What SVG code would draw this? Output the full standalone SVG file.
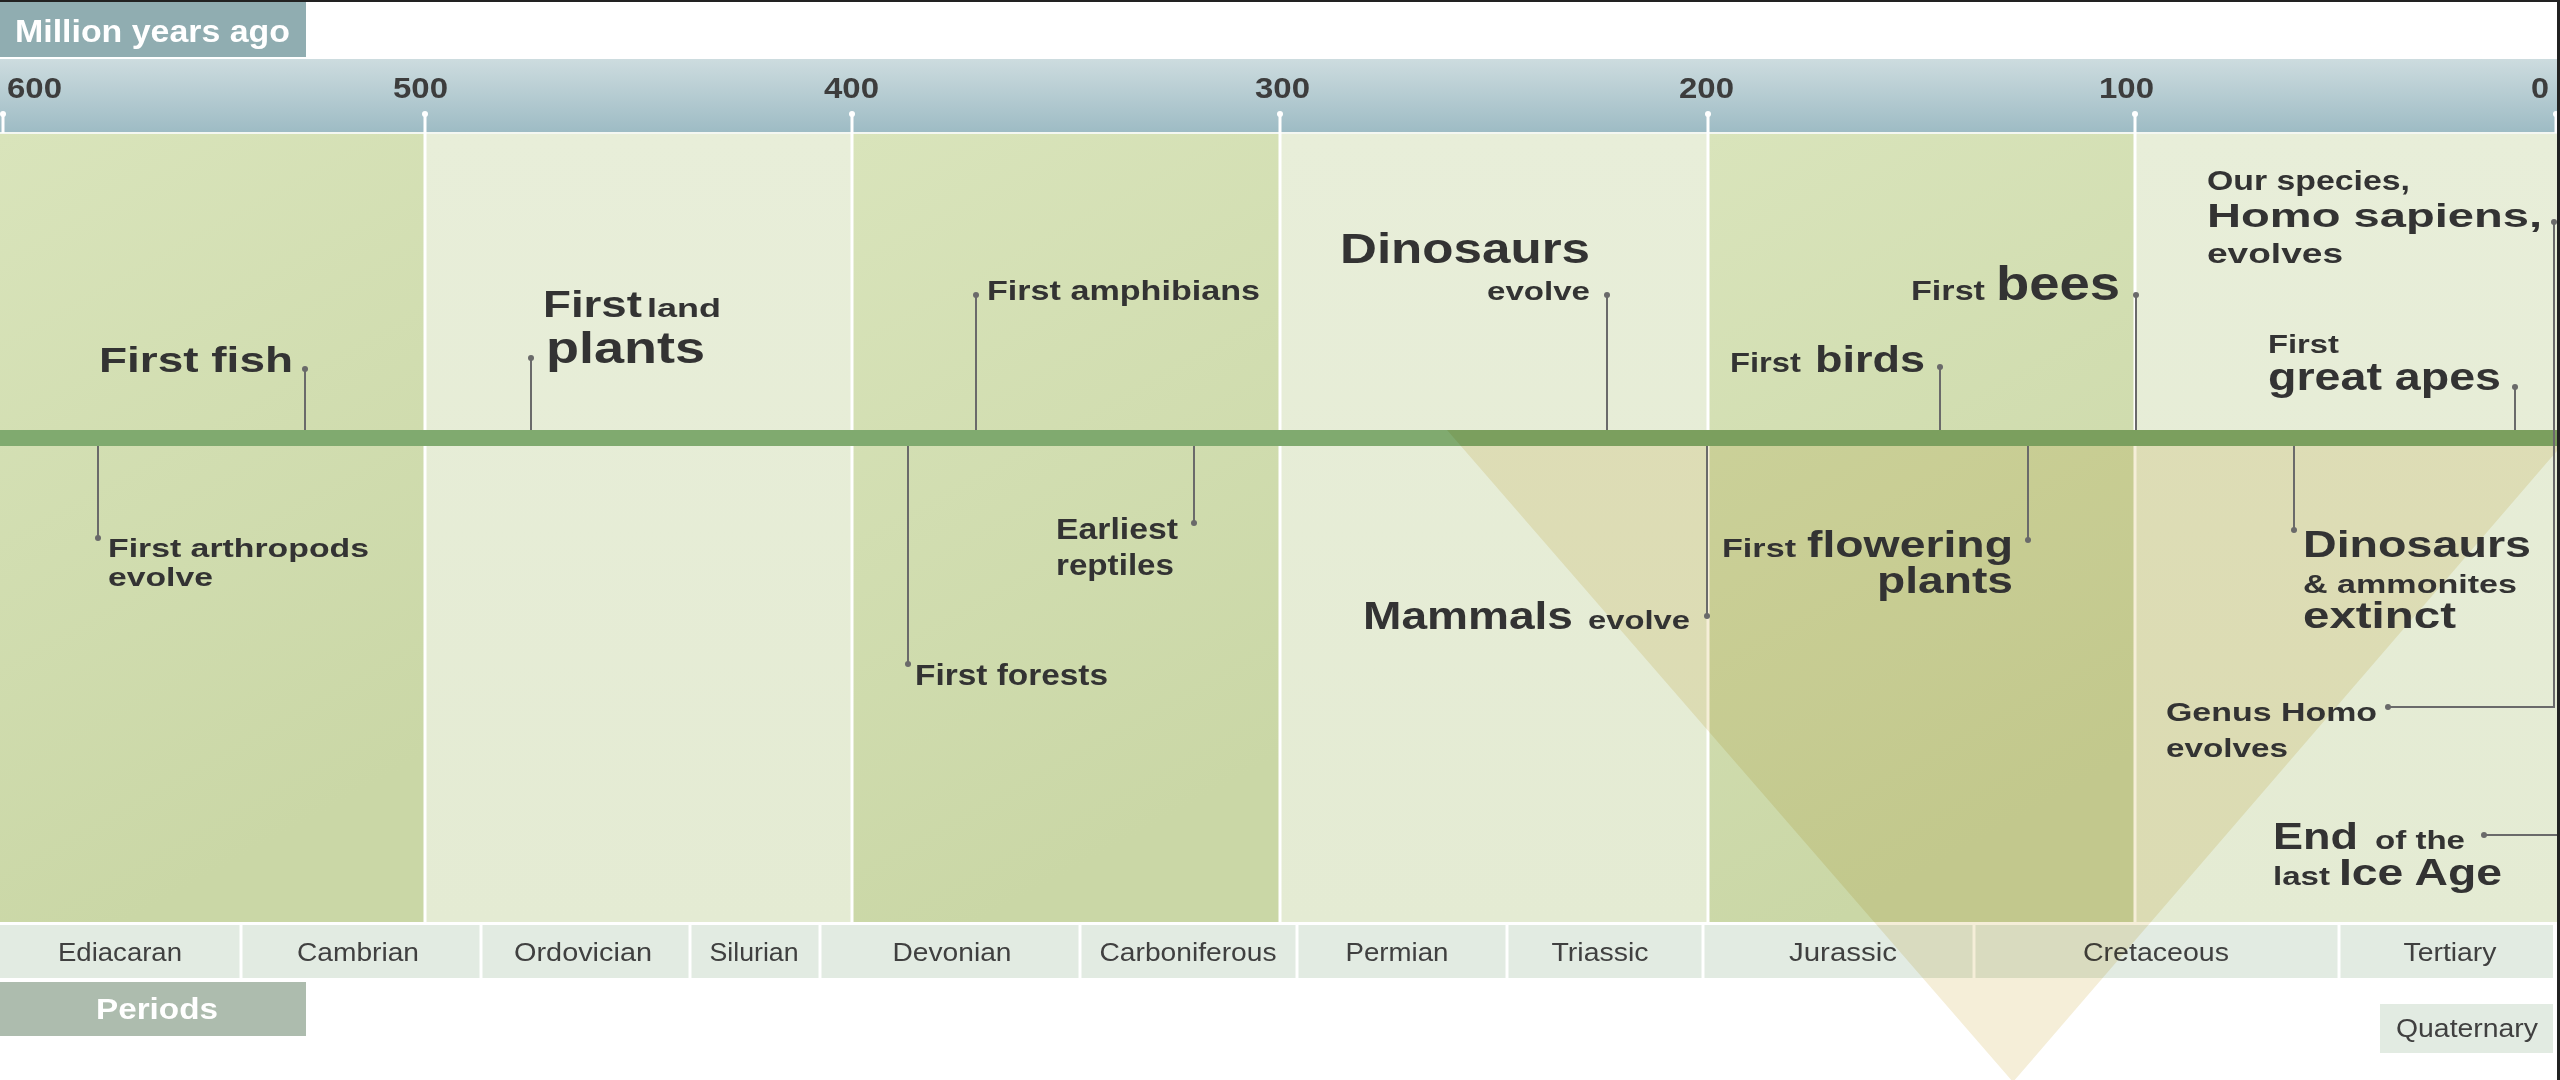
<svg xmlns="http://www.w3.org/2000/svg" width="2560" height="1080" viewBox="0 0 2560 1080">
<defs>
<linearGradient id="axisG" x1="0" y1="0" x2="0" y2="1">
<stop offset="0" stop-color="#cddcdf"/>
<stop offset="1" stop-color="#9dbbc4"/>
</linearGradient>
<linearGradient id="darkG" x1="0" y1="0" x2="0.3" y2="1">
<stop offset="0" stop-color="#d9e4bb"/>
<stop offset="1" stop-color="#cad7a6"/>
</linearGradient>
<linearGradient id="lightG" x1="0" y1="0" x2="0" y2="1">
<stop offset="0" stop-color="#e8eed9"/>
<stop offset="1" stop-color="#e4ebd3"/>
</linearGradient>
<style>
.t{font-family:"Liberation Sans",Arial,Helvetica,sans-serif;fill:#333333;font-weight:bold}
.b{font-weight:bold}
.w{fill:#ffffff;font-weight:bold}
.num{font-family:"Liberation Sans",Arial,sans-serif;font-weight:bold;fill:#3d3d3d;font-size:30px}
.per{font-family:"Liberation Sans",Arial,sans-serif;fill:#404040;font-size:26px;text-anchor:middle}
.sep{stroke:#ffffff;stroke-width:3}
.conn line,.conn polyline{stroke:#6a6a6a;stroke-width:2;fill:none}
.conn circle{fill:#6a6a6a}
.cell{fill:#e2ebe2}
</style>
</defs>
<rect x="0" y="0" width="2560" height="1080" fill="#ffffff"/>

<g id="header">
<rect x="0" y="2" width="306" height="55" fill="#90adb1"/>
<text class="t w" x="15" y="42" font-size="32" textLength="275" lengthAdjust="spacingAndGlyphs">Million years ago</text>
</g>

<g id="axis">
<rect x="0" y="59" width="2557" height="74" fill="url(#axisG)"/>
<text class="num" x="7" y="98" textLength="55" lengthAdjust="spacingAndGlyphs">600</text>
<text class="num" x="393" y="98" textLength="55" lengthAdjust="spacingAndGlyphs">500</text>
<text class="num" x="824" y="98" textLength="55" lengthAdjust="spacingAndGlyphs">400</text>
<text class="num" x="1255" y="98" textLength="55" lengthAdjust="spacingAndGlyphs">300</text>
<text class="num" x="1679" y="98" textLength="55" lengthAdjust="spacingAndGlyphs">200</text>
<text class="num" x="2099" y="98" textLength="55" lengthAdjust="spacingAndGlyphs">100</text>
<text class="num" x="2531" y="98" textLength="18" lengthAdjust="spacingAndGlyphs">0</text>
</g>

<g id="bands">
<rect x="0" y="134" width="425" height="788" fill="url(#darkG)"/>
<rect x="425" y="134" width="427" height="788" fill="url(#lightG)"/>
<rect x="852" y="134" width="428" height="788" fill="url(#darkG)"/>
<rect x="1280" y="134" width="428" height="788" fill="url(#lightG)"/>
<rect x="1708" y="134" width="427" height="788" fill="url(#darkG)"/>
<rect x="2135" y="134" width="422" height="788" fill="url(#lightG)"/>
<line x1="0" y1="133" x2="2557" y2="133" stroke="#f4f7f2" stroke-width="2"/>
<line class="sep" x1="3" y1="114" x2="3" y2="133"/>
<line class="sep" x1="425" y1="114" x2="425" y2="922"/>
<line class="sep" x1="852" y1="114" x2="852" y2="922"/>
<line class="sep" x1="1280" y1="114" x2="1280" y2="922"/>
<line class="sep" x1="1708" y1="114" x2="1708" y2="922"/>
<line class="sep" x1="2135" y1="114" x2="2135" y2="922"/>
<line class="sep" x1="2556" y1="114" x2="2556" y2="133"/>
<circle cx="3" cy="114" r="3" fill="#fff"/>
<circle cx="425" cy="114" r="3" fill="#fff"/>
<circle cx="852" cy="114" r="3" fill="#fff"/>
<circle cx="1280" cy="114" r="3" fill="#fff"/>
<circle cx="1708" cy="114" r="3" fill="#fff"/>
<circle cx="2135" cy="114" r="3" fill="#fff"/>
<circle cx="2556" cy="114" r="3" fill="#fff"/>
</g>

<g id="timeline-bar">
<rect x="0" y="430" width="2557" height="16" fill="#80aa6f"/>
</g>

<g id="periods">
<rect class="cell" x="0" y="925" width="2553" height="53"/>
<line class="sep" x1="241" y1="925" x2="241" y2="978"/>
<line class="sep" x1="481" y1="925" x2="481" y2="978"/>
<line class="sep" x1="690" y1="925" x2="690" y2="978"/>
<line class="sep" x1="820" y1="925" x2="820" y2="978"/>
<line class="sep" x1="1080" y1="925" x2="1080" y2="978"/>
<line class="sep" x1="1297" y1="925" x2="1297" y2="978"/>
<line class="sep" x1="1507" y1="925" x2="1507" y2="978"/>
<line class="sep" x1="1703" y1="925" x2="1703" y2="978"/>
<line class="sep" x1="1974" y1="925" x2="1974" y2="978"/>
<line class="sep" x1="2339" y1="925" x2="2339" y2="978"/>
<text class="per" x="120" y="961" textLength="124" lengthAdjust="spacingAndGlyphs">Ediacaran</text>
<text class="per" x="358" y="961" textLength="122" lengthAdjust="spacingAndGlyphs">Cambrian</text>
<text class="per" x="583" y="961" textLength="138" lengthAdjust="spacingAndGlyphs">Ordovician</text>
<text class="per" x="754" y="961" textLength="89" lengthAdjust="spacingAndGlyphs">Silurian</text>
<text class="per" x="952" y="961" textLength="119" lengthAdjust="spacingAndGlyphs">Devonian</text>
<text class="per" x="1188" y="961" textLength="177" lengthAdjust="spacingAndGlyphs">Carboniferous</text>
<text class="per" x="1397" y="961" textLength="103" lengthAdjust="spacingAndGlyphs">Permian</text>
<text class="per" x="1600" y="961" textLength="97" lengthAdjust="spacingAndGlyphs">Triassic</text>
<text class="per" x="1843" y="961" textLength="108" lengthAdjust="spacingAndGlyphs">Jurassic</text>
<text class="per" x="2156" y="961" textLength="146" lengthAdjust="spacingAndGlyphs">Cretaceous</text>
<text class="per" x="2450" y="961" textLength="93" lengthAdjust="spacingAndGlyphs">Tertiary</text>
<rect x="0" y="982" width="306" height="54" fill="#adbcae"/>
<text class="t w" x="96" y="1019" font-size="30" textLength="122" lengthAdjust="spacingAndGlyphs">Periods</text>
<rect class="cell" x="2380" y="1004" width="173" height="49"/>
<text class="per" x="2467" y="1037" textLength="142" lengthAdjust="spacingAndGlyphs">Quaternary</text>
</g>

<g id="extinction-wedge">
<polygon points="1447,430 2575,430 2013,1082" fill="#f5eed8" style="mix-blend-mode:multiply"/>
</g>

<g id="frame">
<rect x="0" y="0" width="2560" height="2" fill="#222"/>
<rect x="2557" y="0" width="3" height="1080" fill="#222"/>
</g>

<g id="connectors" class="conn">
<line x1="305" y1="369" x2="305" y2="430"/><circle cx="305" cy="369" r="3"/>
<line x1="531" y1="358" x2="531" y2="430"/><circle cx="531" cy="358" r="3"/>
<line x1="976" y1="295" x2="976" y2="430"/><circle cx="976" cy="295" r="3"/>
<line x1="1607" y1="295" x2="1607" y2="430"/><circle cx="1607" cy="295" r="3"/>
<line x1="1940" y1="367" x2="1940" y2="430"/><circle cx="1940" cy="367" r="3"/>
<line x1="2136" y1="295" x2="2136" y2="430"/><circle cx="2136" cy="295" r="3"/>
<line x1="2515" y1="387" x2="2515" y2="430"/><circle cx="2515" cy="387" r="3"/>
<polyline points="2554,222 2554,707 2388,707"/><circle cx="2554" cy="222" r="3"/><circle cx="2388" cy="707" r="3"/>
<line x1="98" y1="446" x2="98" y2="538"/><circle cx="98" cy="538" r="3"/>
<line x1="908" y1="446" x2="908" y2="664"/><circle cx="908" cy="664" r="3"/>
<line x1="1194" y1="446" x2="1194" y2="523"/><circle cx="1194" cy="523" r="3"/>
<line x1="1707" y1="446" x2="1707" y2="616"/><circle cx="1707" cy="616" r="3"/>
<line x1="2028" y1="446" x2="2028" y2="540"/><circle cx="2028" cy="540" r="3"/>
<line x1="2294" y1="446" x2="2294" y2="530"/><circle cx="2294" cy="530" r="3"/>
<line x1="2484" y1="835" x2="2557" y2="835"/><circle cx="2484" cy="835" r="3"/>
</g>

<g id="ev-first-fish"><text class="t" x="99" y="372" font-size="35" textLength="194" lengthAdjust="spacingAndGlyphs">First fish</text></g>
<g id="ev-land-plants">
<text class="t" x="543" y="317" font-size="37" textLength="99" lengthAdjust="spacingAndGlyphs">First</text>
<text class="t" x="647" y="317" font-size="26" textLength="74" lengthAdjust="spacingAndGlyphs">land</text>
<text class="t" x="546" y="363" font-size="45" textLength="159" lengthAdjust="spacingAndGlyphs">plants</text>
</g>
<g id="ev-amphibians"><text class="t" x="987" y="300" font-size="28" textLength="273" lengthAdjust="spacingAndGlyphs">First amphibians</text></g>
<g id="ev-dinosaurs-evolve">
<text class="t" x="1340" y="263" font-size="42" textLength="250" lengthAdjust="spacingAndGlyphs">Dinosaurs</text>
<text class="t" x="1487" y="300" font-size="26" textLength="103" lengthAdjust="spacingAndGlyphs">evolve</text>
</g>
<g id="ev-birds">
<text class="t" x="1730" y="372" font-size="27" textLength="71" lengthAdjust="spacingAndGlyphs">First</text>
<text class="t" x="1815" y="372" font-size="36" textLength="110" lengthAdjust="spacingAndGlyphs">birds</text>
</g>
<g id="ev-bees">
<text class="t" x="1911" y="300" font-size="27" textLength="74" lengthAdjust="spacingAndGlyphs">First</text>
<text class="t" x="1996" y="300" font-size="48" textLength="124" lengthAdjust="spacingAndGlyphs">bees</text>
</g>
<g id="ev-homo-sapiens">
<text class="t" x="2207" y="190" font-size="27" textLength="203" lengthAdjust="spacingAndGlyphs">Our species,</text>
<text class="t" x="2207" y="227" font-size="34" textLength="335" lengthAdjust="spacingAndGlyphs">Homo sapiens,</text>
<text class="t" x="2207" y="263" font-size="27" textLength="136" lengthAdjust="spacingAndGlyphs">evolves</text>
</g>
<g id="ev-great-apes">
<text class="t" x="2268" y="353" font-size="25" textLength="71" lengthAdjust="spacingAndGlyphs">First</text>
<text class="t" x="2268" y="390" font-size="38" textLength="233" lengthAdjust="spacingAndGlyphs">great apes</text>
</g>
<g id="ev-arthropods">
<text class="t" x="108" y="557" font-size="26" textLength="261" lengthAdjust="spacingAndGlyphs">First arthropods</text>
<text class="t" x="108" y="586" font-size="26" textLength="105" lengthAdjust="spacingAndGlyphs">evolve</text>
</g>
<g id="ev-forests"><text class="t" x="915" y="685" font-size="29" textLength="193" lengthAdjust="spacingAndGlyphs">First forests</text></g>
<g id="ev-reptiles">
<text class="t" x="1056" y="539" font-size="30" textLength="122" lengthAdjust="spacingAndGlyphs">Earliest</text>
<text class="t" x="1056" y="575" font-size="30" textLength="118" lengthAdjust="spacingAndGlyphs">reptiles</text>
</g>
<g id="ev-mammals">
<text class="t" x="1363" y="629" font-size="39" textLength="210" lengthAdjust="spacingAndGlyphs">Mammals</text>
<text class="t" x="1588" y="629" font-size="26" textLength="102" lengthAdjust="spacingAndGlyphs">evolve</text>
</g>
<g id="ev-flowering">
<text class="t" x="1722" y="557" font-size="26" textLength="74" lengthAdjust="spacingAndGlyphs">First</text>
<text class="t" x="1807" y="557" font-size="37" textLength="206" lengthAdjust="spacingAndGlyphs">flowering</text>
<text class="t" x="1877" y="593" font-size="37" textLength="136" lengthAdjust="spacingAndGlyphs">plants</text>
</g>
<g id="ev-dinosaurs-extinct">
<text class="t" x="2303" y="557" font-size="37" textLength="228" lengthAdjust="spacingAndGlyphs">Dinosaurs</text>
<text class="t" x="2303" y="593" font-size="25" textLength="214" lengthAdjust="spacingAndGlyphs">&amp; ammonites</text>
<text class="t" x="2303" y="628" font-size="37" textLength="153" lengthAdjust="spacingAndGlyphs">extinct</text>
</g>
<g id="ev-genus-homo">
<text class="t" x="2166" y="721" font-size="25" textLength="211" lengthAdjust="spacingAndGlyphs">Genus Homo</text>
<text class="t" x="2166" y="757" font-size="25" textLength="122" lengthAdjust="spacingAndGlyphs">evolves</text>
</g>
<g id="ev-ice-age">
<text class="t" x="2273" y="849" font-size="36" textLength="85" lengthAdjust="spacingAndGlyphs">End</text>
<text class="t" x="2375" y="849" font-size="25" textLength="90" lengthAdjust="spacingAndGlyphs">of the</text>
<text class="t" x="2273" y="885" font-size="25" textLength="57" lengthAdjust="spacingAndGlyphs">last</text>
<text class="t" x="2339" y="885" font-size="36" textLength="163" lengthAdjust="spacingAndGlyphs">Ice Age</text>
</g>
</svg>
